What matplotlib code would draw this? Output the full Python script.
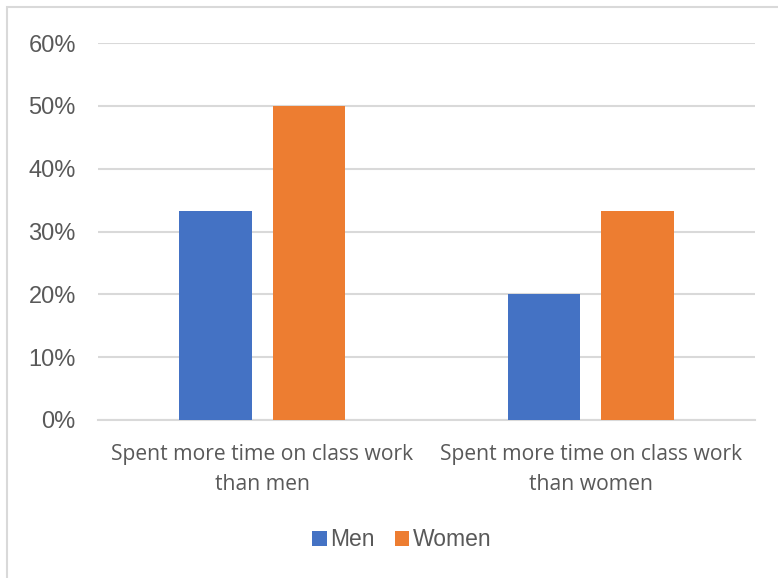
import matplotlib.pyplot as plt
import numpy as np
from matplotlib.patches import Rectangle

categories = ['Spent more time on class work\nthan men',
              'Spent more time on class work\nthan women']
men = [0.333, 0.20]
women = [0.50, 0.333]
yticks = [0, 0.1, 0.2, 0.3, 0.4, 0.5, 0.6]
ytick_labels = ['0%', '10%', '20%', '30%', '40%', '50%', '60%']

blue = '#4472C4'
orange = '#ED7D31'
grid = '#D9D9D9'
text = '#595959'

fig = plt.figure(figsize=(7.78, 5.78), dpi=100, facecolor='white')

# chart border (Excel style frame)
fig.patches.append(Rectangle((7 / 778, -0.1), 1.2, (578 - 7) / 578 + 0.1,
                             transform=fig.transFigure, fill=False,
                             edgecolor=grid, linewidth=1.5))

ax = fig.add_axes([98 / 778, (578 - 420) / 578, (755 - 98) / 778, (420 - 43) / 578])

x = np.arange(len(categories))
w = 0.22
off = 0.142
ax.bar(x - off, men, w, color=blue, label='Men', zorder=3)
ax.bar(x + off, women, w, color=orange, label='Women', zorder=3)

ax.set_xlim(-0.5, 1.5)
ax.set_ylim(0, 0.6)
ax.set_yticks(yticks)
ax.set_yticklabels(ytick_labels, fontfamily='Liberation Sans', fontsize=17, color=text)
ax.set_xticks(x)
ax.set_xticklabels(categories, fontfamily='Open Sans', fontsize=15.2, color=text,
                   linespacing=1.6)
ax.tick_params(axis='both', length=0)
ax.tick_params(axis='y', pad=16)
ax.tick_params(axis='x', pad=17)
ax.grid(axis='y', color=grid, linewidth=1.5, zorder=0)
for s in ['top', 'right', 'left']:
    ax.spines[s].set_visible(False)
ax.spines['bottom'].set_color(grid)
ax.spines['bottom'].set_linewidth(1.5)

leg = fig.legend(loc='center', bbox_to_anchor=(402 / 778, (578 - 540) / 578), ncol=2,
                 frameon=False, prop={'family': 'Liberation Sans', 'size': 16.5},
                 handlelength=0.62, handleheight=0.62, handletextpad=0.15,
                 columnspacing=0.9)
for t in leg.get_texts():
    t.set_color(text)

fig.savefig('out.png', dpi=100, facecolor='white')
